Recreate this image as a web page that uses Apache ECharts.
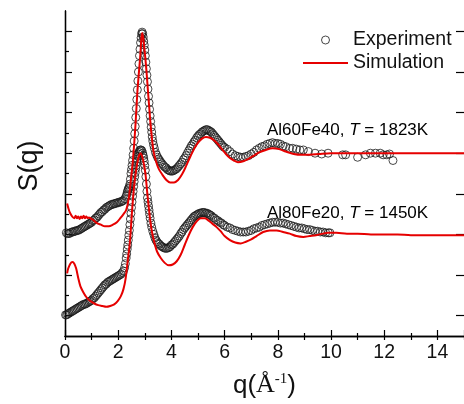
<!DOCTYPE html>
<html>
<head>
<meta charset="utf-8">
<script src="https://cdn.jsdelivr.net/npm/echarts@6/dist/echarts.min.js"></script>
<style>
  html, body { margin: 0; padding: 0; background: #fff; }
  #chart { width: 464px; height: 404px; }
</style>
</head>
<body>
<div id="chart"></div>
<script>
// Al60Fe40, T = 1823K  (plotted shifted up by 1.25)
var upperExpQ = [0.05,0.1,0.15,0.2,0.25,0.3,0.35,0.4,0.45,0.5,0.55,0.6,0.65,0.7,0.75,0.8,0.85,0.9,0.95,1.0,1.05,1.1,1.15,1.2,1.25,1.3,1.35,1.4,1.45,1.5,1.55,1.6,1.65,1.7,1.75,1.8,1.85,1.9,1.95,2.0,2.05,2.1,2.15,2.2,2.25,2.3,
    2.32,2.34,2.36,2.38,2.40,2.42,2.44,2.46,2.48,2.50,2.52,2.54,2.56,2.58,2.60,2.62,2.64,2.66,2.68,2.70,2.72,2.74,2.76,2.78,2.80,2.82,2.84,2.86,2.88,2.90,2.92,2.94,2.96,2.98,3.00,3.02,3.04,3.06,3.08,3.10,3.12,3.14,3.16,3.18,3.20,3.22,3.24,3.26,3.28,3.30,3.33,3.36,3.40,3.44,3.48,3.52,3.56,3.60,3.65,3.70,3.75,3.80,3.85,3.90,3.95,4.0,4.05,4.1,4.15,4.2,4.25,4.3,4.35,4.4,4.45,4.5,4.55,4.6,4.65,4.7,4.75,4.8,4.85,4.9,4.95,5.0,5.05,5.1,5.15,5.2,5.25,5.3,5.35,5.4,5.45,5.5,5.55,5.6,5.65,5.7,5.75,5.8,5.85,5.9,5.95,6.0,
    6.1,6.2,6.3,6.4,6.5,6.6,6.7,6.8,6.9,7.0,7.1,7.2,7.3,7.4,7.5,7.6,7.7,7.8,7.9,8.0,8.1,8.2,8.3,8.44,8.56,8.7,8.83,8.96,9.15,9.4,9.65,9.89,10.44,10.55,11.0,11.3,11.48,11.67,11.85,11.96,12.1,12.2,12.33];
var upperExpS = [0.02,0.01,0.01,0.02,0.03,0.03,0.04,0.04,0.05,0.05,0.06,0.07,0.08,0.09,0.10,0.11,0.12,0.13,0.14,0.15,0.17,0.18,0.20,0.21,0.23,0.25,0.27,0.28,0.30,0.31,0.33,0.34,0.35,0.36,0.37,0.37,0.38,0.38,0.39,0.39,0.40,0.40,0.41,0.42,0.44,0.47,
    0.49,0.52,0.54,0.56,0.57,0.59,0.62,0.68,0.75,0.80,0.85,0.91,0.98,1.06,1.15,1.24,1.33,1.44,1.55,1.66,1.78,1.89,2.00,2.10,2.20,2.28,2.36,2.42,2.47,2.49,2.47,2.43,2.38,2.33,2.27,2.20,2.12,2.04,1.96,1.88,1.79,1.70,1.62,1.54,1.46,1.39,1.32,1.26,1.20,1.15,1.10,1.06,1.01,0.98,0.95,0.93,0.91,0.89,0.87,0.85,0.83,0.82,0.80,0.79,0.78,0.78,0.78,0.79,0.80,0.81,0.83,0.85,0.87,0.89,0.92,0.94,0.97,1.00,1.03,1.06,1.09,1.11,1.14,1.16,1.19,1.21,1.23,1.24,1.26,1.27,1.28,1.29,1.29,1.28,1.27,1.26,1.24,1.22,1.20,1.18,1.16,1.14,1.12,1.10,1.08,1.07,
    1.05,1.02,0.99,0.97,0.96,0.95,0.95,0.96,0.97,0.99,1.01,1.04,1.06,1.08,1.09,1.11,1.12,1.13,1.12,1.12,1.11,1.09,1.08,1.06,1.06,1.05,1.04,1.04,1.02,1.00,0.99,1.00,0.98,0.98,0.95,0.98,1.00,1.00,1.00,0.98,0.98,0.99,0.91];
var upperSimQ = [0.08,0.12,0.18,0.25,0.3,0.35,0.4,0.45,0.5,0.55,0.6,0.65,0.7,0.75,0.8,0.85,0.9,0.95,1.05,1.2,1.35,1.5,1.65,1.8,1.95,2.08,2.2,2.3,2.4,2.48,2.56,2.65,2.72,2.78,2.83,2.87,2.90,2.94,2.98,3.02,3.07,3.12,3.17,3.21,3.27,3.33,3.42,3.52,3.65,3.81,3.95,4.1,4.25,4.4,4.55,4.7,4.85,5.0,5.15,5.3,5.45,5.6,5.75,5.9,6.05,6.2,6.35,6.5,6.7,6.9,7.1,7.3,7.55,7.8,8.05,8.3,8.6,8.9,9.2,9.55,10.0,10.5,11,11.5,12,12.5,13,13.5,14,14.5,15];
var upperSimS = [0.38,0.33,0.27,0.23,0.21,0.20,0.23,0.20,0.22,0.19,0.22,0.20,0.23,0.20,0.22,0.20,0.21,0.20,0.18,0.14,0.12,0.10,0.10,0.12,0.15,0.20,0.25,0.30,0.45,0.68,0.94,1.35,1.75,2.00,2.20,2.40,2.48,2.42,2.30,2.17,1.98,1.76,1.55,1.38,1.18,1.02,0.90,0.81,0.74,0.67,0.64,0.64,0.67,0.74,0.84,0.95,1.05,1.13,1.18,1.20,1.19,1.16,1.11,1.05,0.99,0.94,0.91,0.89,0.90,0.93,0.97,1.01,1.04,1.06,1.05,1.02,0.99,0.98,0.98,0.99,1.00,1.00,1.00,1.00,1.00,1.00,1.00,1.00,1.00,1.00,1.00];

// Al80Fe20, T = 1450K  (plotted shifted up by 0.25)
var lowerExpQ = [0.02,0.06,0.1,0.15,0.2,0.25,0.3,0.35,0.4,0.45,0.5,0.55,0.6,0.65,0.7,0.75,0.8,0.85,0.9,0.95,1.0,1.05,1.1,1.15,1.2,1.25,1.3,1.35,1.4,1.45,1.5,1.55,1.6,1.65,1.7,1.75,1.8,1.85,1.9,1.95,2.0,2.05,2.1,2.15,2.2,2.24,2.27,
    2.30,2.32,2.34,2.36,2.38,2.40,2.42,2.44,2.46,2.48,2.50,2.52,2.54,2.56,2.58,2.60,2.62,2.64,2.66,2.68,2.70,2.72,2.74,2.76,2.78,2.80,2.83,2.86,2.89,2.92,2.94,2.96,2.98,3.00,3.02,3.04,3.06,3.08,3.10,3.12,3.14,3.16,3.18,3.20,3.23,3.26,3.30,3.34,3.38,3.42,3.46,3.50,3.55,3.60,3.65,3.70,3.75,3.80,3.85,3.90,3.95,4.0,4.05,4.1,4.15,4.2,4.25,4.3,4.35,4.4,4.45,4.5,4.55,4.6,4.65,4.7,4.75,4.8,4.85,4.9,4.95,5.0,5.05,5.1,5.15,5.2,5.25,5.3,5.35,5.4,5.45,5.5,5.56,5.62,5.68,5.75,5.82,5.88,5.95,6.0,
    6.1,6.2,6.3,6.4,6.5,6.6,6.7,6.8,6.9,7.0,7.1,7.2,7.3,7.4,7.5,7.6,7.7,7.8,7.9,8.0,8.1,8.2,8.3,8.4,8.5,8.6,8.7,8.8,8.9,9.0,9.1,9.2,9.3,9.4,9.5,9.6,9.7,9.8,9.9,9.96];
var lowerExpS = [0.01,0.01,0.02,0.03,0.04,0.05,0.06,0.07,0.08,0.09,0.10,0.11,0.12,0.13,0.14,0.14,0.15,0.16,0.17,0.18,0.19,0.21,0.22,0.24,0.26,0.28,0.30,0.32,0.34,0.36,0.38,0.39,0.41,0.42,0.43,0.44,0.45,0.46,0.47,0.48,0.49,0.50,0.51,0.53,0.55,0.59,0.64,
    0.71,0.76,0.82,0.87,0.93,0.99,1.05,1.12,1.19,1.26,1.33,1.40,1.47,1.53,1.59,1.65,1.71,1.76,1.81,1.85,1.89,1.93,1.96,1.99,2.01,2.03,2.04,2.04,2.03,2.00,1.97,1.94,1.90,1.85,1.79,1.71,1.62,1.53,1.45,1.40,1.35,1.30,1.25,1.20,1.14,1.09,1.04,1.00,0.96,0.93,0.91,0.89,0.88,0.86,0.85,0.84,0.83,0.83,0.83,0.84,0.85,0.87,0.88,0.90,0.92,0.94,0.96,0.98,1.01,1.03,1.06,1.08,1.10,1.12,1.14,1.16,1.18,1.20,1.22,1.23,1.24,1.25,1.26,1.26,1.27,1.27,1.27,1.26,1.26,1.25,1.24,1.23,1.21,1.20,1.18,1.17,1.15,1.14,1.12,1.11,
    1.09,1.08,1.06,1.05,1.04,1.03,1.03,1.03,1.04,1.05,1.07,1.08,1.09,1.11,1.12,1.13,1.14,1.15,1.15,1.15,1.14,1.14,1.13,1.12,1.11,1.10,1.09,1.08,1.08,1.07,1.06,1.06,1.05,1.04,1.04,1.03,1.03,1.02,1.02,1.02];
var lowerSimQ = [0.08,0.12,0.2,0.28,0.35,0.42,0.5,0.58,0.67,0.8,0.95,1.1,1.25,1.4,1.55,1.7,1.85,1.98,2.1,2.2,2.28,2.36,2.44,2.53,2.60,2.65,2.72,2.78,2.84,2.90,2.97,3.03,3.09,3.15,3.21,3.27,3.36,3.46,3.6,3.75,3.9,4.05,4.2,4.35,4.5,4.65,4.8,4.95,5.1,5.25,5.4,5.55,5.7,5.85,6.0,6.2,6.4,6.6,6.8,7.0,7.2,7.45,7.7,7.95,8.2,8.45,8.7,8.96,9.2,9.44,9.7,9.9,10.2,10.6,11.0,11.5,12.0,12.5,13.0,13.5,14.0,14.5,15.0];
var lowerSimS = [0.52,0.58,0.64,0.66,0.64,0.58,0.46,0.36,0.30,0.23,0.18,0.15,0.13,0.12,0.11,0.12,0.14,0.18,0.24,0.33,0.46,0.68,0.91,1.33,1.60,1.73,1.88,1.97,2.00,1.96,1.86,1.73,1.52,1.33,1.16,1.03,0.90,0.79,0.71,0.65,0.62,0.63,0.67,0.75,0.87,0.99,1.09,1.16,1.20,1.20,1.17,1.13,1.09,1.04,0.98,0.93,0.90,0.89,0.91,0.94,0.98,1.03,1.05,1.05,1.03,1.01,0.98,0.97,0.98,0.99,1.01,1.02,1.02,1.01,1.01,1.00,1.00,1.00,0.99,0.99,0.99,0.99,0.99];

var offsets = [1.25, 0.25];
var sampleNames = ['Al60Fe40', 'Al80Fe20'];
var sampleTemps = ['1823K', '1450K'];
var xTickLabels = ['0', '2', '4', '6', '8', '10', '12', '14'];

var FONT = 'Liberation Sans, Arial, sans-serif';
var SERIF = 'Liberation Serif, Times New Roman, serif';

function pairs(qs, ss, off) {
    var out = [];
    for (var i = 0; i < qs.length; i++) {
        out.push([qs[i], ss[i] + off]);
    }
    return out;
}

var myChart = echarts.init(document.getElementById('chart'), null, { renderer: 'canvas' });

var expStyle = { color: 'rgba(0,0,0,0)', borderColor: '#1a1a1a', borderWidth: 1 };
var simLine = { color: '#e60000', width: 2 };

var option = {
    animation: false,
    backgroundColor: '#fff',
    grid: [
        { left: 65, top: 11, right: -6, bottom: 68 },      // data grid, y 0..4
        { left: 65, top: 31.3, right: -6, bottom: 88.3 }   // only for the y ticks
    ],
    legend: {
        orient: 'vertical',
        left: 298,
        top: 25,
        itemWidth: 45,
        itemHeight: 8,
        itemGap: 3,
        textStyle: { fontFamily: FONT, fontSize: 19.5, color: '#111' },
        data: [
            { name: 'Experiment', icon: 'circle', itemStyle: expStyle },
            { name: 'Simulation', icon: 'path://M0,0L45,0L45,2L0,2Z', itemStyle: { color: simLine.color } }
        ]
    },
    xAxis: [
        {
            type: 'value', gridIndex: 0, position: 'bottom',
            min: 0, max: 15, interval: 2,
            axisLine: { lineStyle: { color: '#000', width: 1.3 } },
            axisTick: { inside: true, length: 6, lineStyle: { color: '#000', width: 1.2 } },
            minorTick: { show: true, splitNumber: 2, length: 3, lineStyle: { color: '#000', width: 1.2 } },
            splitLine: { show: false },
            axisLabel: {
                margin: 7, color: '#111', fontFamily: FONT, fontSize: 19.5, showMaxLabel: false,
                formatter: function (v) {
                    var s = String(v);
                    return xTickLabels.indexOf(s) >= 0 ? s : '';
                }
            },
            name: '{a|q(}{b|Å}{s|-1}{a|)}',
            nameLocation: 'middle',
            nameGap: 36,
            nameTextStyle: {
                rich: {
                    a: { fontFamily: FONT, fontSize: 26, color: '#111' },
                    b: { fontFamily: SERIF, fontSize: 26, color: '#111' },
                    s: { fontFamily: SERIF, fontSize: 15, color: '#111', verticalAlign: 'top', padding: [0, 0, 12, 0] }
                }
            }
        },
        {
            type: 'value', gridIndex: 0, position: 'top',
            min: 0, max: 15, interval: 1,
            axisLine: { lineStyle: { color: '#000', width: 1.3 } },
            axisTick: { inside: true, length: 4, lineStyle: { color: '#000', width: 1.2 } },
            axisLabel: { show: false },
            splitLine: { show: false }
        },
        {
            type: 'value', gridIndex: 1, min: 0, max: 15, show: false
        }
    ],
    yAxis: [
        {
            type: 'value', gridIndex: 0, position: 'left',
            min: 0, max: 4,
            axisLine: { show: true, lineStyle: { color: '#000', width: 1.3 } },
            axisTick: { show: false },
            axisLabel: { show: false },
            splitLine: { show: false }
        },
        {
            type: 'value', gridIndex: 0, position: 'right',
            min: 0, max: 4,
            axisLine: { show: true, lineStyle: { color: '#000', width: 1.3 } },
            axisTick: { show: false },
            axisLabel: { show: false },
            splitLine: { show: false }
        },
        {
            type: 'value', gridIndex: 1, position: 'left',
            min: 0, max: 3.5, interval: 0.5,
            axisLine: { show: false },
            axisTick: { show: true, inside: true, length: 7, lineStyle: { color: '#000', width: 1.2 } },
            minorTick: { show: true, splitNumber: 2, length: 4, lineStyle: { color: '#000', width: 1.2 } },
            axisLabel: { show: false },
            splitLine: { show: false }
        },
        {
            type: 'value', gridIndex: 1, position: 'right',
            min: 0, max: 3.5, interval: 0.5,
            axisLine: { show: false },
            axisTick: { show: true, inside: true, length: 8, lineStyle: { color: '#000', width: 1.2 } },
            axisLabel: { show: false },
            splitLine: { show: false }
        }
    ],
    graphic: [
        {
            type: 'text', x: 30, y: 166, rotation: Math.PI / 2,
            style: { text: 'S(q)', font: '27px ' + FONT, fill: '#111', align: 'center', verticalAlign: 'middle' }
        }
    ],
    series: [
        {
            name: 'Experiment', type: 'scatter', xAxisIndex: 0, yAxisIndex: 0,
            symbol: 'circle', symbolSize: 8, itemStyle: expStyle, z: 2,
            data: pairs(upperExpQ, upperExpS, offsets[0])
        },
        {
            name: 'Experiment', type: 'scatter', xAxisIndex: 0, yAxisIndex: 0,
            symbol: 'circle', symbolSize: 8, itemStyle: expStyle, z: 2,
            data: pairs(lowerExpQ, lowerExpS, offsets[1])
        },
        {
            name: 'Simulation', type: 'line', xAxisIndex: 0, yAxisIndex: 0,
            symbol: 'none', smooth: 0.3, lineStyle: simLine, itemStyle: { color: simLine.color }, z: 3,
            data: pairs(upperSimQ, upperSimS, offsets[0])
        },
        {
            name: 'Simulation', type: 'line', xAxisIndex: 0, yAxisIndex: 0,
            symbol: 'none', smooth: 0.3, lineStyle: simLine, itemStyle: { color: simLine.color }, z: 3,
            data: pairs(lowerSimQ, lowerSimS, offsets[1])
        }
    ]
};

// sample labels
var labelY = [130, 213];
for (var k = 0; k < sampleNames.length; k++) {
    option.graphic.push({
        type: 'text', x: 267, y: labelY[k],
        style: {
            text: '{n|' + sampleNames[k] + ', }{i|T}{n| = ' + sampleTemps[k] + '}',
            verticalAlign: 'middle',
            rich: {
                n: { fontFamily: FONT, fontSize: 17, color: '#111' },
                i: { fontFamily: FONT, fontSize: 17, fontStyle: 'italic', color: '#111' }
            }
        }
    });
}

myChart.setOption(option);
</script>
</body>
</html>
